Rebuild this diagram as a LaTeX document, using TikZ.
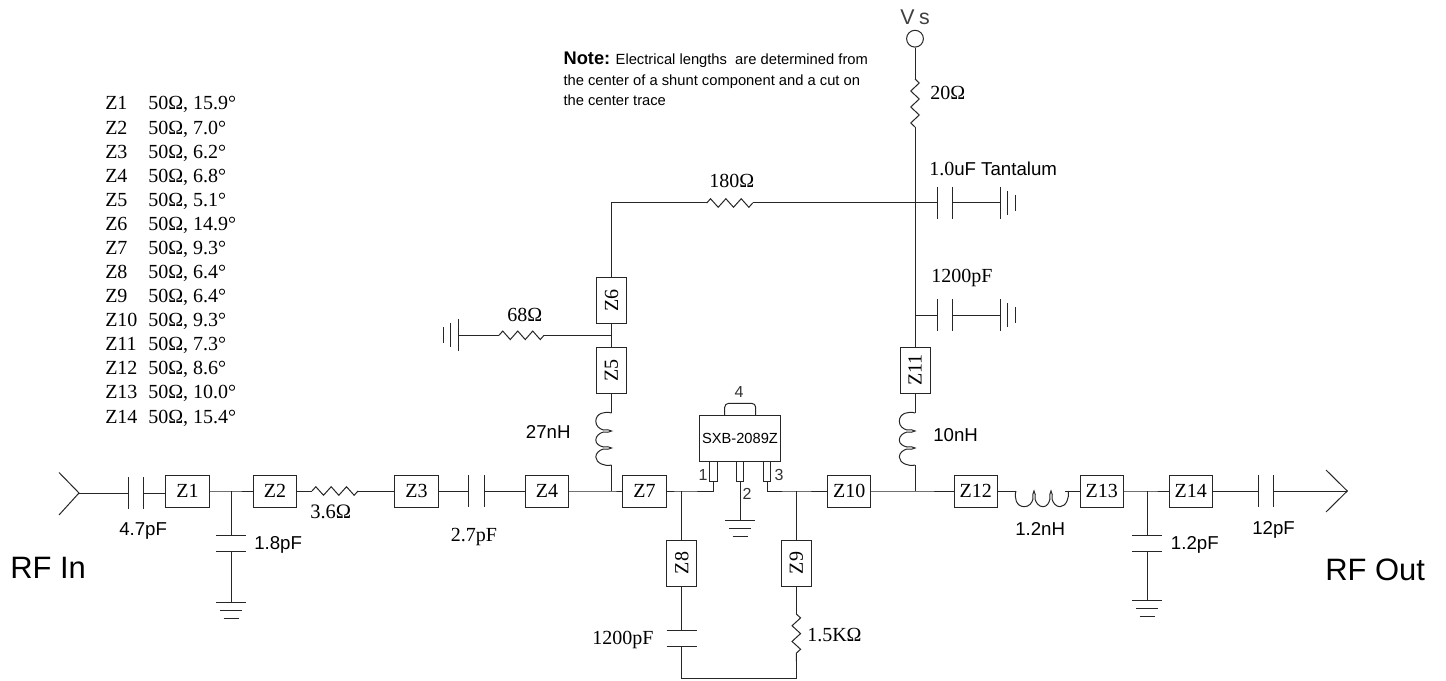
\documentclass[tikz,border=0pt]{standalone}
\usepackage{fontspec}
\setmainfont{Liberation Serif}
\setsansfont{Liberation Sans}
\usetikzlibrary{decorations.pathmorphing}
\newcommand{\fs}[1]{\fontsize{#1}{#1}\selectfont}
\newcommand{\vplate}[3]{\draw[wire] (#1,#2-#3) -- (#1,#2+#3);}
\newcommand{\hplate}[3]{\draw[wire] (#1-#3,#2) -- (#1+#3,#2);}
\newcommand{\gndDown}[2]{\hplate{#1}{#2}{15}\hplate{#1}{#2+8}{11}\hplate{#1}{#2+16}{7.5}}
\newcommand{\gndRight}[2]{\vplate{#1}{#2}{16}\vplate{#1+7.7}{#2}{12}\vplate{#1+15.3}{#2}{8}}
\newcommand{\gndLeft}[2]{\vplate{#1}{#2}{16}\vplate{#1-7.7}{#2}{12}\vplate{#1-15.3}{#2}{8}}
\tikzset{
  x=0.75pt,y=-0.75pt,
  wire/.style={draw=black!85,line width=0.75pt},
  zig/.style={wire,decorate,decoration={zigzag,segment length=#1,amplitude=3.2pt}},
  zbox/.style={draw=black!85,line width=0.75pt,fill=white,inner sep=0pt,minimum width=32.4pt,minimum height=24pt,font=\fs{15}},
  zboxv/.style={zbox,rotate=90,minimum width=34.5pt,minimum height=22.5pt},
  pinbox/.style={draw=black!85,line width=0.75pt,fill=white,inner sep=0pt,minimum width=5.6pt,minimum height=15pt},
  ser/.style={anchor=base west,inner sep=0pt,font=\fs{15}},
  san/.style={anchor=base west,inner sep=0pt,font=\sffamily\fs{14}},
  tbl/.style={anchor=base west,inner sep=0pt,font=\fs{15}},
  nt/.style={anchor=base west,inner sep=0pt,font=\sffamily\fs{11.05}},
  pinl/.style={inner sep=0pt,font=\sffamily\fs{12},text=black!80},
  pics/coil/.style={code={
    \draw[wire] (0,0) .. controls (-6,-2) and (-15.7,0) .. (-15.7,8.3)
      .. controls (-15.7,13) and (-12,16) .. (-8,17)
      .. controls (-5,16) and (-2,17) .. (0,18)
      .. controls (-2,19) and (-5,20) .. (-8,19)
      .. controls (-12,20) and (-15.7,23) .. (-15.7,27)
      .. controls (-15.7,31) and (-12,33) .. (-8,34)
      .. controls (-5,33) and (-2,34) .. (0,35)
      .. controls (-2,36) and (-5,37) .. (-8,36)
      .. controls (-12,37) and (-15.7,40) .. (-15.7,44)
      .. controls (-15.7,50) and (-6,54) .. (0,52);
  }}
}
\begin{document}
\begin{tikzpicture}
\fill[white] (0,0) rectangle (1446,681);
\useasboundingbox (0,0) rectangle (1446,681);

% transmission-line boxes
\node[zbox] (Z1) at (187.5,491) {Z1};
\node[zbox] (Z2) at (275,491) {Z2};
\node[zbox] (Z3) at (416.5,491) {Z3};
\node[zbox] (Z4) at (547,491) {Z4};
\node[zbox] (Z7) at (644.5,491) {Z7};
\node[zbox] (Z10) at (849.3,491) {Z10};
\node[zbox] (Z12) at (975.7,491) {Z12};
\node[zbox] (Z13) at (1101.7,491) {Z13};
\node[zbox] (Z14) at (1190.7,491) {Z14};
\node[zboxv] (Z5) at (611.5,370.2) {Z5};
\node[zboxv] (Z6) at (611.5,300.3) {Z6};
\node[zboxv] (Z8) at (681.7,563) {Z8};
\node[zboxv] (Z9) at (796.3,563) {Z9};
\node[zboxv] (Z11) at (915,370.2) {Z11};

% named points
\coordinate (inTip) at (79,493);
\coordinate (inA) at (59,472.5);
\coordinate (inB) at (59,515);
\coordinate (c1a) at (128,493);
\coordinate (c1b) at (143,493);
\coordinate (j1) at (231,491);
\coordinate (c2t) at (231,535);
\coordinate (c2b) at (231,551);
\coordinate (g1) at (231,602);
\coordinate (r1a) at (312,491);
\coordinate (r1b) at (358,491);
\coordinate (c3a) at (468.3,491);
\coordinate (c3b) at (484,491);
\coordinate (j2) at (611.5,491);
\coordinate (l1t) at (611.5,413);
\coordinate (l1b) at (611.5,465);
\coordinate (j3) at (681.7,491);
\coordinate (c4t) at (681.7,630.3);
\coordinate (c4b) at (681.7,646.3);
\coordinate (b1) at (681.7,678);
\coordinate (b2) at (796.3,678);
\coordinate (r2t) at (796.3,614);
\coordinate (r2b) at (796.3,661);
\coordinate (j4) at (796.3,491);
\coordinate (j5) at (915,491);
\coordinate (l2t) at (915,413);
\coordinate (l2b) at (915,465);
\coordinate (l3a) at (1016,491);
\coordinate (l3b) at (1065,491);
\coordinate (j6) at (1147,491);
\coordinate (c5t) at (1147,535);
\coordinate (c5b) at (1147,551);
\coordinate (g2) at (1147,600);
\coordinate (c6a) at (1258.3,491);
\coordinate (c6b) at (1273.3,491);
\coordinate (outTip) at (1347.3,491);
\coordinate (outA) at (1326,470);
\coordinate (outB) at (1326,512);
\coordinate (j7) at (611.5,335.3);
\coordinate (r3a) at (544,335.3);
\coordinate (r3b) at (499,335.3);
\coordinate (g3) at (458.3,335.3);
\coordinate (k1) at (611.5,203);
\coordinate (r4a) at (706.7,203);
\coordinate (r4b) at (752.7,203);
\coordinate (j8) at (915,203);
\coordinate (c7a) at (937.7,203);
\coordinate (c7b) at (952.7,203);
\coordinate (g4) at (1000,203);
\coordinate (j9) at (915,315);
\coordinate (c8a) at (937.7,315);
\coordinate (c8b) at (952.7,315);
\coordinate (g5) at (1000,315);
\coordinate (r5t) at (915,79);
\coordinate (r5b) at (915,127);

% device
\draw[wire,rounded corners=3pt] (724.7,416) -- (724.7,403.3) -- (755.7,403.3) -- (755.7,416);
\node[draw=black!85,line width=0.75pt,fill=white,inner sep=0pt,minimum width=60.5pt,minimum height=34.5pt,font=\sffamily\fs{11}] (U) at (740,438.3) {SXB-2089Z};
\node[pinbox] (P1) at (713.3,471.3) {};
\node[pinbox] (P2) at (740,471.3) {};
\node[pinbox] (P3) at (767,471.3) {};
\coordinate (pw1) at (713.3,491);
\coordinate (pw3) at (767,491);
\coordinate (g6) at (740,520);

% Vs
\node[draw=black!85,line width=0.75pt,circle,inner sep=0pt,minimum size=12.6pt] (Vs) at (915,38.7) {};

% main line
\draw[wire] (inA) -- (inTip) -- (inB);
\draw[wire] (inTip) -- (c1a);
\vplate{128}{493}{16}\vplate{143}{493}{16}
\draw[wire] (c1b) -- (c1b -| Z1.west);
\draw[wire] (Z1.east) -- (j1) -- (Z2.west);
\draw[wire] (Z2.east) -- (r1a);
\draw[zig=15.33pt*0.75] (r1a) -- (r1b);
\draw[wire] (r1b) -- (Z3.west);
\draw[wire] (Z3.east) -- (c3a);
\vplate{468.3}{491}{16}\vplate{484}{491}{16}
\draw[wire] (c3b) -- (Z4.west);
\draw[wire] (Z4.east) -- (j2) -- (Z7.west);
\draw[wire] (Z7.east) -- (j3) -- (pw1) -- (P1.south);
\draw[wire] (P3.south) -- (pw3) -- (j4) -- (Z10.west);
\draw[wire] (Z10.east) -- (j5) -- (Z12.west);
\draw[wire] (Z12.east) -- (l3a);
\pic[rotate=90] at (l3a) {coil};
\draw[wire] (l3b) -- (Z13.west);
\draw[wire] (Z13.east) -- (j6) -- (Z14.west);
\draw[wire] (Z14.east) -- (c6a);
\vplate{1258.3}{491}{16}\vplate{1273.3}{491}{16}
\draw[wire] (c6b) -- (outTip);
\draw[wire] (outA) -- (outTip) -- (outB);

% shunt C to ground, input and output
\draw[wire] (j1) -- (c2t);
\hplate{231}{535}{15}\hplate{231}{551}{15}
\draw[wire] (c2b) -- (g1);
\gndDown{231}{602}
\draw[wire] (j6) -- (c5t);
\hplate{1147}{535}{15}\hplate{1147}{551}{15}
\draw[wire] (c5b) -- (g2);
\gndDown{1147}{600}

% bias left
\draw[wire] (j2) -- (l1b);
\pic at (l1t) {coil};
\draw[wire] (l1t) -- (Z5.west);
\draw[wire] (Z5.east) -- (j7) -- (Z6.west);
\draw[wire] (j7) -- (r3a);
\draw[zig=15pt*0.75] (r3b) -- (r3a);
\draw[wire] (r3b) -- (g3);
\gndLeft{458.3}{335.3}
\draw[wire] (Z6.east) -- (k1) -- (r4a);
\draw[zig=15.33pt*0.75] (r4a) -- (r4b);
\draw[wire] (r4b) -- (j8);

% feedback
\draw[wire] (j3) -- (Z8.east);
\draw[wire] (Z8.west) -- (c4t);
\hplate{681.7}{630.3}{15}\hplate{681.7}{646.3}{15}
\draw[wire] (c4b) -- (b1) -- (b2) -- (r2b);
\draw[zig=15.67pt*0.75] (r2t) -- (r2b);
\draw[wire] (r2t) -- (Z9.west);
\draw[wire] (Z9.east) -- (j4);

% ground of device
\draw[wire] (P2.south) -- (g6);
\gndDown{740}{520}

% supply
\draw[wire] (Vs.south) -- (r5t);
\draw[zig=16pt*0.75] (r5t) -- (r5b);
\draw[wire] (r5b) -- (Z11.east);
\draw[wire] (Z11.west) -- (l2t);
\pic at (l2t) {coil};
\draw[wire] (l2b) -- (j5);
\draw[wire] (j8) -- (c7a);
\vplate{937.7}{203}{16}\vplate{952.7}{203}{16}
\draw[wire] (c7b) -- (g4);
\gndRight{1000}{203}
\draw[wire] (j9) -- (c8a);
\vplate{937.7}{315}{16}\vplate{952.7}{315}{16}
\draw[wire] (c8b) -- (g5);
\gndRight{1000}{315}

% labels on components
\node[san] (t47) at (119,535) {4.7pF};
\node[san] (t18) at (254,549) {1.8pF};
\node[ser,font=\fs{15.4}] (t36) at (310,518) {3.6Ω};
\node[ser] (t27) at (450.7,541) {2.7pF};
\node[san] (t27n) at (525.7,438) {27nH};
\node[ser] (t68) at (507,321.7) {68Ω};
\node[ser] (t180) at (709,188) {180Ω};
\node[ser] (t20) at (930,100) {20Ω};
\node[san] (t1u) at (929,175.7) {{\rmfamily\fs{15}1.0}uF Tantalum};
\node[ser] (t12a) at (931,282.7) {1200pF};
\node[san] (t10n) at (933,441) {10nH};
\node[ser] (t12b) at (592,644) {1200pF};
\node[ser] (t15) at (807,641) {1.5KΩ};
\node[san] (t12n) at (1015,535) {1.2nH};
\node[san] (t12p) at (1170.7,549) {1.2pF};
\node[san] (t12c) at (1252,534) {12pF};
\node[anchor=base west,inner sep=0pt,font=\sffamily\fs{23.2}] (rfi) at (10,578) {RF In};
\node[anchor=base west,inner sep=0pt,font=\sffamily\fs{23.2}] (rfo) at (1325,580) {RF Out};
\node[pinl] (p1) at (703,475) {1};
\node[pinl] (p2) at (747,494) {2};
\node[pinl] (p3) at (779,475) {3};
\node[pinl] (p4) at (739,392) {4};
\node[anchor=base west,inner sep=0pt,font=\sffamily\fs{16},text=black!75] (vst) at (900,25) {V\kern3.5pt s};

% note
\node[nt] (n1) at (563.3,65) {{\bfseries\fs{13.7}Note:} Electrical lengths\ \ are determined from};
\node[nt] (n2) at (563.3,86) {the center of a shunt component and a cut on};
\node[nt] (n3) at (563.3,106) {the center trace};

% table
\foreach \n/\a/\b [count=\i from 0] in {1/50/15.9,2/50/7.0,3/50/6.2,4/50/6.8,5/50/5.1,6/50/14.9,7/50/9.3,8/50/6.4,9/50/6.4,10/50/9.3,11/50/7.3,12/50/8.6,13/50/10.0,14/50/15.4}{
  \node[tbl] (tz\n) at (105,110+24.08*\i) {Z\n};
  \node[tbl] (tv\n) at (148,110+24.08*\i) {\a Ω, \b°};
}
\end{tikzpicture}
\end{document}
